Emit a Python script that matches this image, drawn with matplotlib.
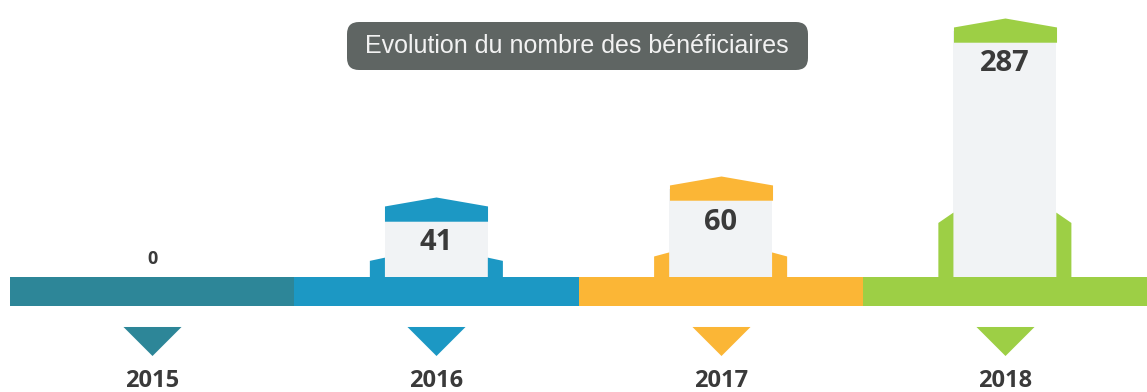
import numpy as np
import matplotlib
matplotlib.use("Agg")
import matplotlib.pyplot as plt
from matplotlib.path import Path
from matplotlib.patches import Polygon, FancyBboxPatch

# Data
years = ["2015", "2016", "2017", "2018"]
beneficiaries = [0, 41, 60, 287]
year_colors = ["#2D8698", "#1C98C4", "#FBB636", "#9DCF45"]
title = "Evolution du nombre des bénéficiaires"

# Figure geometry (pixels at 100 dpi)
W, H = 1147, 392
fig = plt.figure(figsize=(W / 100, H / 100), dpi=100)
fig.patch.set_facecolor("white")

x = np.arange(len(years))
values = np.array(beneficiaries, dtype=float)
xlim = (-0.5, len(years) - 0.5)
left = 10 / W
span = 1 - left
baseline_px = 278
band_top_px = 277

BODY_W = 0.362          # tower width in category units
WING_W = 0.053          # side wing width
WING_RATIO = 0.1        # wing height relative to tower value
BODY_COLOR = "#F1F3F5"
TEXT_COLOR = "#3A3A3A"
POWER = 0.6
ROOF_SHOULDER_PX = 13   # body stops just below the gable, hidden by the roof

# ---- towers (power scale so small values stay readable) ----
ax = fig.add_axes([left, (H - baseline_px) / H, span, baseline_px / H])
ax.set_yscale("function",
              functions=(lambda v: np.power(np.clip(v, 0, None), POWER),
                         lambda u: np.power(np.clip(u, 0, None), 1 / POWER)))
ax.set_xlim(*xlim)
ax.set_ylim(0, 320)
ax.axis("off")

# body height: the value's position minus the gable, through the axes transform
to_disp = ax.transData
body_tops = []
for xi, v in zip(x, values):
    if v <= 0:
        body_tops.append(0.0)
        continue
    px = to_disp.transform((xi, v))
    body_tops.append(to_disp.inverted().transform((px[0], px[1] - ROOF_SHOULDER_PX))[1])
ax.bar(x, body_tops, width=BODY_W, color=BODY_COLOR, zorder=1)

roof_path = Path([(-0.5, -0.235), (-0.5, -0.087), (0.0, 0.0), (0.5, -0.087),
                  (0.5, -0.235), (-0.5, -0.235)],
                 [Path.MOVETO, Path.LINETO, Path.LINETO, Path.LINETO,
                  Path.LINETO, Path.CLOSEPOLY])

for xi, v, c in zip(x, values, year_colors):
    if v <= 0:
        ax.annotate(f"{int(v)}", (xi, 0), xytext=(0, 14), textcoords="offset points",
                    ha="center", va="center", fontsize=13, fontweight="bold",
                    family="Open Sans", color=TEXT_COLOR)
        continue
    hw = v * WING_RATIO
    ho = hw * 0.75
    inner_l = xi - BODY_W / 2
    inner_r = xi + BODY_W / 2
    ax.add_patch(Polygon([(inner_l - WING_W, 0), (inner_l - WING_W, ho),
                          (inner_l, hw), (inner_l, 0)],
                         closed=True, fc=c, ec="none", zorder=2))
    ax.add_patch(Polygon([(inner_r, 0), (inner_r, hw),
                          (inner_r + WING_W, ho), (inner_r + WING_W, 0)],
                         closed=True, fc=c, ec="none", zorder=2))
    ax.plot([xi], [v], marker=roof_path, ms=74.2, mfc=c, mec="none",
            ls="none", zorder=3)
    ax.annotate(f"{int(v)}", (xi, v), xytext=(0, -33), textcoords="offset points",
                ha="center", va="center", fontsize=21, fontweight="bold",
                family="Open Sans", color=TEXT_COLOR, zorder=4)

# ---- timeline band, markers and years ----
ax2 = fig.add_axes([left, 0, span, (H - band_top_px) / H])
ax2.set_zorder(2)
ax2.patch.set_visible(False)
ax2.set_xlim(*xlim)
ax2.set_ylim(H - band_top_px, 0)
ax2.axis("off")

ax2.bar(x, 29, bottom=0, width=1.0, color=year_colors, linewidth=0)

tri_path = Path([(-0.5, 0.25), (0.5, 0.25), (0.0, -0.25), (-0.5, 0.25)],
                [Path.MOVETO, Path.LINETO, Path.LINETO, Path.CLOSEPOLY])
for xi, yr, c in zip(x, years, year_colors):
    ax2.plot([xi], [64], marker=tri_path, ms=41.8, mfc=c, mec="none", ls="none")
    ax2.text(xi, 104, yr, ha="center", va="center", fontsize=17,
             fontweight="bold", family="Open Sans", color=TEXT_COLOR)

# ---- title pill ----
pill = FancyBboxPatch((3.47, 3.22), 4.61, 0.48,
                      boxstyle="round,pad=0,rounding_size=0.12",
                      transform=fig.dpi_scale_trans, fc="#5F6563", ec="none")
fig.add_artist(pill)
fig.text(577 / W, 1 - 46 / H, title, ha="center", va="center", fontsize=18,
         color="#F2F2F2", family="Liberation Sans")

fig.savefig("out.png", dpi=100)
